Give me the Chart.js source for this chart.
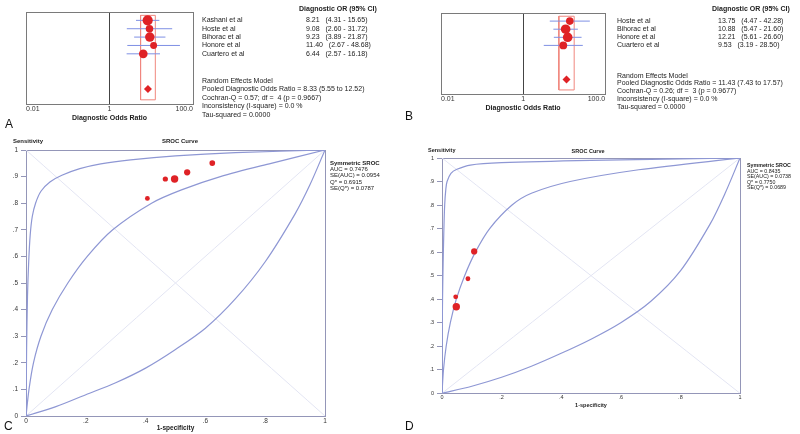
<!DOCTYPE html>
<html>
<head>
<meta charset="utf-8">
<script src="https://cdn.jsdelivr.net/npm/chart.js@4.4.0/dist/chart.umd.min.js"></script>
<style>
  body { margin: 0; background: #fff; width: 800px; height: 434px; position: relative; overflow: hidden; }
  canvas { position: absolute; }
  #labels { left: 0; top: 0; pointer-events: none; }
</style>
</head>
<body>
<canvas id="forestA" width="200" height="125" style="left:0;top:0"></canvas>
<canvas id="forestB" width="210" height="115" style="left:400px;top:0"></canvas>
<canvas id="srocC" width="400" height="299" style="left:0;top:135px"></canvas>
<canvas id="srocD" width="400" height="299" style="left:400px;top:135px"></canvas>
<canvas id="labels" width="800" height="434"></canvas>
<script>
// ---- panel A / B: forest plots of diagnostic odds ratio ----
const studiesA = ["Kashani et al", "Hoste et al", "Bihorac et al", "Honore et al", "Cuartero et al"];
const dorA = [8.21, 9.08, 9.23, 11.40, 6.44];
const ciLowA = [4.31, 2.60, 3.89, 2.67, 2.57];
const ciHighA = [15.65, 31.72, 21.87, 48.68, 16.18];
const weightA = [30, 14, 25, 11, 20];
const pooledA = [8.33, 5.55, 12.52];
const summaryA = ["0.57", " 4", "0.9667", "0.0", "0.0000"];

const studiesB = ["Hoste et al", "Bihorac et al", "Honore et al", "Cuartero et al"];
const dorB = [13.75, 10.88, 12.21, 9.53];
const ciLowB = [4.47, 5.47, 5.61, 3.19];
const ciHighB = [42.28, 21.60, 26.60, 28.50];
const weightB = [14, 26, 26, 15];
const pooledB = [11.43, 7.43, 17.57];
const summaryB = ["0.26", " 3", "0.9677", "0.0", "0.0000"];

const forestTicks = [0.01, 1, 100];
const forestTickLabels = ["0.01", "1", "100.0"];

// ---- panel C / D: SROC curves (x = 1-specificity, y = sensitivity) ----
const upperC = [[0, 0], [0.002, 0.25], [0.005, 0.45], [0.009, 0.58], [0.014, 0.68], [0.021, 0.75], [0.032, 0.8],
                [0.05, 0.845], [0.08, 0.88], [0.12, 0.905], [0.18, 0.93], [0.25, 0.948], [0.35, 0.963],
                [0.5, 0.978], [0.7, 0.99], [1, 1]];
const middleC = [[0, 0], [0.01, 0.1], [0.025, 0.2], [0.05, 0.3], [0.088, 0.4], [0.14, 0.5], [0.205, 0.6],
                 [0.29, 0.7], [0.42, 0.8], [0.52, 0.85], [0.65, 0.9], [0.82, 0.95], [1, 1]];
const lowerC = [[0, 0], [0.1, 0.035], [0.2, 0.08], [0.3, 0.125], [0.4, 0.18], [0.5, 0.25], [0.6, 0.33],
                [0.7, 0.44], [0.8, 0.58], [0.9, 0.76], [0.95, 0.87], [1, 1]];
const fprC = [0.406, 0.466, 0.497, 0.539, 0.623];
const tprC = [0.818, 0.891, 0.891, 0.916, 0.951];
const weightC = [6, 8, 25, 15, 11];
const srocStatsC = ["0.7476", "0.0954", "0.6915", "0.0787"];

const upperD = [[0, 0], [0.001, 0.3], [0.003, 0.5], [0.006, 0.68], [0.009, 0.8], [0.013, 0.87], [0.017, 0.9],
                [0.03, 0.935], [0.05, 0.952], [0.095, 0.97], [0.2, 0.98], [0.5, 0.99], [1, 1]];
const middleD = [[0, 0], [0.005, 0.1], [0.014, 0.2], [0.028, 0.3], [0.048, 0.4], [0.076, 0.5], [0.112, 0.6],
                 [0.16, 0.7], [0.235, 0.8], [0.3, 0.85], [0.43, 0.9], [0.66, 0.95], [1, 1]];
const lowerD = [[0, 0], [0.1, 0.03], [0.2, 0.068], [0.3, 0.115], [0.4, 0.17], [0.5, 0.23], [0.6, 0.3],
                [0.7, 0.39], [0.8, 0.52], [0.9, 0.72], [0.95, 0.85], [1, 1]];
const fprD = [0.108, 0.087, 0.046, 0.048];
const tprD = [0.603, 0.487, 0.41, 0.368];
const weightD = [15, 6, 6, 25];
const srocStatsD = ["0.8435", "0.0738", "0.7750", "0.0689"];

const srocXTicks = ["0", ".2", ".4", ".6", ".8", "1"];
const srocYTicks = ["0", ".1", ".2", ".3", ".4", ".5", ".6", ".7", ".8", ".9", "1"];

const FONT = '"Liberation Sans", Arial, sans-serif';
Chart.defaults.font.family = FONT;
Chart.defaults.color = "#333";
Chart.defaults.animation = false;

const RED = "#df2226";
const CURVE = "#8e97d4";

// box round the plot area, both chart types have one
const framePlugin = {
  id: "frame",
  beforeDatasetsDraw(chart, args, opts) {
    const { left, top, right, bottom } = chart.chartArea;
    const ctx = chart.ctx;
    ctx.save();
    ctx.strokeStyle = opts.color;
    ctx.lineWidth = 1;
    ctx.strokeRect(Math.round(left) + 0.5, Math.round(top) + 0.5, Math.round(right - left), Math.round(bottom - top));
    ctx.restore();
  }
};

// free text (tables, stats, panel letters) goes on one overlay canvas
const lctx = document.getElementById("labels").getContext("2d");
function text(str, x, y, size, opts = {}) {
  lctx.font = (opts.bold ? "bold " : "") + size + "px " + FONT;
  lctx.fillStyle = opts.color || "#222";
  lctx.textBaseline = "middle";
  lctx.textAlign = opts.center ? "center" : "left";
  lctx.fillText(str, x, y);
}

function forestChart(id, names, dor, lo, hi, weight, pooled, pad, xHeight, tickPad, titlePad) {
  const pooledRow = names.length + 3.2;
  const rectTop = -0.6, rectBottom = pooledRow + 1.3;
  const ciSegments = [];
  names.forEach((_, i) => {
    ciSegments.push({ x: lo[i], y: i }, { x: hi[i], y: i }, { x: null, y: null });
  });
  return new Chart(document.getElementById(id), {
    type: "scatter",
    data: {
      datasets: [
        { data: dor.map((v, i) => ({ x: v, y: i })), pointRadius: weight.map(w => 1 + Math.sqrt(w) * 0.75),
          backgroundColor: RED, borderColor: RED, borderWidth: 0 },
        { data: [{ x: pooled[0], y: pooledRow }], pointStyle: "rectRot", pointRadius: 4,
          backgroundColor: RED, borderColor: RED, borderWidth: 0 },
        { data: ciSegments, showLine: true, spanGaps: false, borderColor: "#7f90e4", borderWidth: 1, pointRadius: 0 },
        { data: [{ x: pooled[1], y: rectTop }, { x: pooled[1], y: rectBottom }, { x: pooled[2], y: rectBottom },
                 { x: pooled[2], y: rectTop }, { x: pooled[1], y: rectTop }],
          showLine: true, borderColor: "#f0877e", borderWidth: 1, pointRadius: 0 }
      ]
    },
    options: {
      responsive: false,
      layout: { padding: pad },
      plugins: { legend: { display: false }, tooltip: { enabled: false }, frame: { color: "#7a7a7a" } },
      scales: {
        x: {
          type: "logarithmic", min: 0.01, max: 100,
          afterBuildTicks: s => { s.ticks = forestTicks.map(v => ({ value: v })); },
          afterFit: s => { s.height = xHeight; },
          ticks: { autoSkip: false, maxRotation: 0, align: "inner", padding: tickPad, font: { size: 7 }, color: "#333",
                   callback: (v, i) => forestTickLabels[i] },
          grid: { drawTicks: false, color: c => (c.tick && c.tick.value === 1 ? "#444" : "transparent") },
          border: { display: false },
          title: { display: true, text: "Diagnostic Odds Ratio", font: { size: 7, weight: "bold" }, color: "#222",
                   padding: { top: 0, bottom: titlePad } }
        },
        y: { type: "linear", reverse: true, min: -1, max: names.length + 5, display: false }
      }
    },
    plugins: [framePlugin]
  });
}

function forestText(chart, names, dor, lo, hi, pooled, summary, cols, headerY, sumY) {
  const y = chart.scales.y;
  text("Diagnostic OR (95% CI)", cols[2], headerY, 7, { bold: true });
  names.forEach((n, i) => {
    const py = y.getPixelForValue(i);
    text(n, cols[0], py, 7);
    text(dor[i].toFixed(2) + "   (" + lo[i].toFixed(2) + " - " + hi[i].toFixed(2) + ")", cols[1], py, 7);
  });
  const lines = [
    "Random Effects Model",
    "Pooled Diagnostic Odds Ratio = " + pooled[0].toFixed(2) + " (" + pooled[1].toFixed(2) + " to " + pooled[2].toFixed(2) + ")",
    "Cochran-Q = " + summary[0] + "; df = " + summary[1] + " (p = " + summary[2] + ")",
    "Inconsistency (I-square) = " + summary[3] + " %",
    "Tau-squared = " + summary[4]
  ];
  lines.forEach((l, i) => text(l, cols[0], sumY[i], 7));
}

function curveSet(points, color, width) {
  return { data: points.map(p => ({ x: p[0], y: p[1] })), showLine: true, borderColor: color, borderWidth: width,
           pointRadius: 0, tension: 0.3 };
}

function srocChart(id, curves, fpr, tpr, weight, pad, yWidth, xHeight, tickSize, titlePad) {
  return new Chart(document.getElementById(id), {
    type: "scatter",
    data: {
      datasets: [
        { data: fpr.map((v, i) => ({ x: v, y: tpr[i] })), pointRadius: weight.map(w => 1.2 + Math.sqrt(w) * 0.5),
          backgroundColor: RED, borderColor: RED, borderWidth: 0 },
        curveSet(curves[0], CURVE, 1.2),
        curveSet(curves[1], CURVE, 1.2),
        curveSet(curves[2], CURVE, 1.2),
        curveSet([[0, 0], [1, 1]], "#e3e5f3", 1),
        curveSet([[0, 1], [1, 0]], "#e3e5f3", 1)
      ]
    },
    options: {
      responsive: false,
      layout: { padding: pad },
      plugins: { legend: { display: false }, tooltip: { enabled: false }, frame: { color: "#9496b8" } },
      scales: {
        x: {
          type: "linear", min: 0, max: 1,
          afterBuildTicks: s => { s.ticks = srocXTicks.map((_, i) => ({ value: i / (srocXTicks.length - 1) })); },
          afterFit: s => { s.height = xHeight; },
          ticks: { autoSkip: false, maxRotation: 0, padding: 1, font: { size: tickSize }, color: "#333",
                   callback: (v, i) => srocXTicks[i] },
          grid: { drawOnChartArea: false, drawTicks: false },
          border: { display: false },
          title: { display: true, text: "1-specificity", font: { size: tickSize, weight: "bold" }, color: "#222",
                   padding: { top: 0, bottom: titlePad } }
        },
        y: {
          type: "linear", min: 0, max: 1,
          afterBuildTicks: s => { s.ticks = srocYTicks.map((_, i) => ({ value: i / (srocYTicks.length - 1) })); },
          afterFit: s => { s.width = yWidth; },
          ticks: { autoSkip: false, padding: 3, font: { size: tickSize }, color: "#333",
                   callback: (v, i) => srocYTicks[i] },
          grid: { drawOnChartArea: false, drawTicks: true, tickLength: 5, color: "#9496b8" },
          border: { display: false }
        }
      }
    },
    plugins: [framePlugin]
  });
}

function srocText(stats, x, y0, step, size) {
  text("Symmetric SROC", x, y0, size, { bold: true });
  ["AUC = ", "SE(AUC) = ", "Q* = ", "SE(Q*) = "].forEach((k, i) => text(k + stats[i], x, y0 + step * (i + 1), size));
}

const chartA = forestChart("forestA", studiesA, dorA, ciLowA, ciHighA, weightA, pooledA,
                           { left: 26, right: 7, top: 12, bottom: 0 }, 21, 1, 3);
const chartB = forestChart("forestB", studiesB, dorB, ciLowB, ciHighB, weightB, pooledB,
                           { left: 41, right: 2, top: 13, bottom: 3 }, 18, 1, 0);
forestText(chartA, studiesA, dorA, ciLowA, ciHighA, pooledA, summaryA, [202, 306, 299], 9,
           [81, 89.5, 98, 106.5, 115]);
forestText(chartB, studiesB, dorB, ciLowB, ciHighB, pooledB, summaryB, [617, 718, 712], 9.3,
           [76, 83.5, 91, 99, 107]);

srocChart("srocC", [upperC, middleC, lowerC], fprC, tprC, weightC,
          { left: 0, right: 75, top: 15, bottom: 0 }, 26, 18, 6.5, 2);
srocChart("srocD", [upperD, middleD, lowerD], fprD, tprD, weightD,
          { left: 25, right: 60, top: 23, bottom: 22.7 }, 17, 18, 5.5, 3);

text("Sensitivity", 13, 141, 6, { bold: true });
text("SROC Curve", 180, 141.5, 6, { bold: true, center: true });
srocText(srocStatsC, 330, 163, 6.3, 6);
text("Sensitivity", 428, 150, 5.5, { bold: true });
text("SROC Curve", 588, 151, 5.5, { bold: true, center: true });
srocText(srocStatsD, 747, 166, 5.4, 5.3);

text("A", 5, 125, 12, { color: "#111" });
text("B", 405, 117, 12, { color: "#111" });
text("C", 4, 427, 12, { color: "#111" });
text("D", 405, 427, 12, { color: "#111" });
</script>
</body>
</html>
